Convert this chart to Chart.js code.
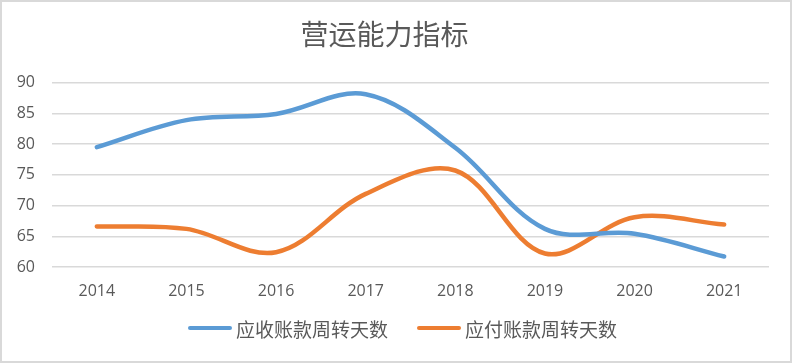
<!DOCTYPE html>
<html><head><meta charset="utf-8">
<script src="https://cdn.jsdelivr.net/npm/chart.js@4/dist/chart.umd.min.js"></script>
<style>
html,body{margin:0;padding:0;background:#fff;}
#wrap{position:relative;width:793px;height:364px;}
#frame{position:absolute;left:0;top:0;width:792px;height:363px;box-sizing:border-box;border:2px solid #d9d9d9;pointer-events:none;}
#legend{position:absolute;left:188px;top:316px;height:24px;display:flex;align-items:center;font-family:'Noto Sans CJK SC',sans-serif;font-size:19px;color:#595959;white-space:nowrap;}
.item{display:flex;align-items:center;}
.item + .item{margin-left:29px;}
.swatch{width:44px;height:4.5px;border-radius:3px;margin-right:4px;}
</style></head>
<body>
<div id="wrap"><canvas id="c" width="793" height="364"></canvas><div id="legend"></div><div id="frame"></div></div>
<script>
const title = '营运能力指标';
const categories = ['2014','2015','2016','2017','2018','2019','2020','2021'];
const seriesNames = ['应收账款周转天数','应付账款周转天数'];
const receivableDays = [79.5, 83.9, 84.9, 88.1, 79.4, 66.2, 65.4, 61.7];
const payableDays = [66.6, 66.2, 62.4, 71.9, 75.7, 62.2, 68.1, 66.9];
const yTicks = [60, 65, 70, 75, 80, 85, 90];
const seriesColors = ['#5B9BD5', '#ED7D31'];

const textColor = '#595959';
const numFont = "'Open Sans', 'Liberation Sans', sans-serif";
const cjkFont = "'Noto Sans CJK SC', sans-serif";

const chart = new Chart(document.getElementById('c'), {
  type: 'line',
  data: {
    labels: categories,
    datasets: [
      {label: seriesNames[0], data: receivableDays, borderColor: seriesColors[0], backgroundColor: seriesColors[0], borderWidth: 4.5, pointRadius: 0, tension: 0.35, borderCapStyle: 'round', borderJoinStyle: 'round'},
      {label: seriesNames[1], data: payableDays, borderColor: seriesColors[1], backgroundColor: seriesColors[1], borderWidth: 4.5, pointRadius: 0, tension: 0.35, borderCapStyle: 'round', borderJoinStyle: 'round'}
    ]
  },
  options: {
    responsive: false,
    animation: false,
    layout: {padding: {left: 0, right: 24, top: 0, bottom: 57}},
    plugins: {
      title: {display: true, text: title, color: textColor, font: {family: cjkFont, size: 28, weight: 'normal'}, padding: {top: 18, bottom: 31}},
      legend: {display: false},
      tooltip: {enabled: false}
    },
    scales: {
      x: {
        offset: true,
        afterFit: (s) => { s.height = 40; },
        grid: {display: false, drawTicks: false},
        border: {display: false},
        ticks: {color: textColor, font: {family: numFont, size: 16}, padding: 15, maxRotation: 0}
      },
      y: {
        min: 60, max: 90,
        afterFit: (s) => { s.width = 52; },
        afterBuildTicks: (s) => { s.ticks = yTicks.map(v => ({value: v})); },
        grid: {color: '#d9d9d9', lineWidth: 1.5, drawTicks: false},
        border: {display: false},
        ticks: {color: textColor, font: {family: numFont, size: 16}, padding: 17}
      }
    }
  }
});

const legend = document.getElementById('legend');
chart.data.datasets.forEach((ds) => {
  const item = document.createElement('div');
  item.className = 'item';
  const sw = document.createElement('span');
  sw.className = 'swatch';
  sw.style.background = ds.borderColor;
  const tx = document.createElement('span');
  tx.textContent = ds.label;
  item.appendChild(sw);
  item.appendChild(tx);
  legend.appendChild(item);
});
</script>
</body></html>
